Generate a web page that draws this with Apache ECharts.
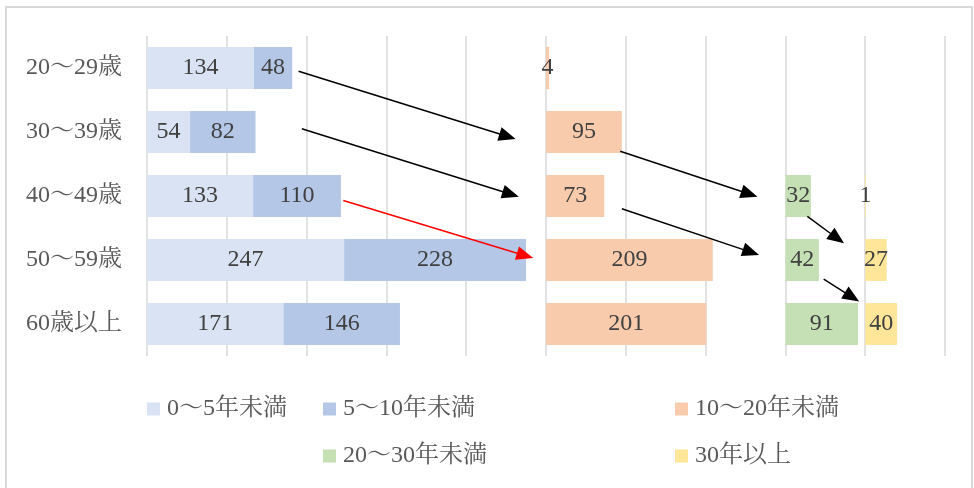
<!DOCTYPE html>
<html>
<head>
<meta charset="utf-8">
<style>
  html, body { margin: 0; padding: 0; background: #ffffff; }
  #frame { position: absolute; left: 5px; top: 6px; width: 968px; height: 490px; border: 2px solid #d9d9d9; box-sizing: border-box; }
  #chart { position: absolute; left: 0; top: 0; width: 974px; height: 488px; }
</style>
<script src="https://cdn.jsdelivr.net/npm/echarts@6/dist/echarts.min.js"></script>
</head>
<body>
<div id="frame"></div>
<div id="chart"></div>
<script>
// Age groups (rows, top to bottom)
const ageGroups = ['20〜29歳', '30〜39歳', '40〜49歳', '50〜59歳', '60歳以上'];

// Headcount by length of service
const years0to5   = [134, 54, 133, 247, 171];
const years5to10  = [48, 82, 110, 228, 146];
const years10to20 = [4, 95, 73, 209, 201];
const years20to30 = [0, 0, 32, 42, 91];
const years30plus = [0, 0, 1, 27, 40];

const seriesNames = ['0〜5年未満', '5〜10年未満', '10〜20年未満', '20〜30年未満', '30年以上'];

// Where each tenure column begins on the shared value axis
const columnStart = { col10to20: 500, col20to30: 800, col30plus: 900 };

// Flow arrows: [fromValue, fromRow, toValue, toRow, color]
const flowArrows = [
  [190, 0.05, 462, 1.11, '#000000'],
  [194, 0.95, 466, 2.01, '#000000'],
  [246, 2.07, 484, 2.97, '#ff0000'],
  [593, 1.30, 765, 2.01, '#000000'],
  [595, 2.20, 767, 2.92, '#000000'],
  [827.5, 2.32, 873.5, 2.74, '#000000'],
  [848, 3.30, 892.5, 3.65, '#000000']
];

const colors = ['#dae3f3', '#b4c7e7', '#f8cbad', '#c5e0b4', '#ffe699'];
const FONT = "'Liberation Serif', 'Noto Serif CJK JP', 'Noto Sans CJK JP', serif";

// transparent spacers that push each tenure column to its start position
const spacer1 = ageGroups.map((_, i) => columnStart.col10to20 - years0to5[i] - years5to10[i]);
const spacer2 = ageGroups.map((_, i) => columnStart.col20to30 - columnStart.col10to20 - years10to20[i]);
const spacer3 = ageGroups.map((_, i) => columnStart.col30plus - columnStart.col20to30 - years20to30[i]);

function valueBar(name, data, color) {
  return {
    name: name,
    type: 'bar',
    stack: 'total',
    barCategoryGap: '34%',
    data: data,
    itemStyle: { color: color },
    label: {
      show: true,
      position: 'inside',
      color: '#404040',
      fontFamily: FONT,
      fontSize: 24,
      formatter: p => (p.value ? String(p.value) : '')
    },
    emphasis: { disabled: true }
  };
}

function spacerBar(name, data) {
  return {
    name: name,
    type: 'bar',
    stack: 'total',
    data: data,
    silent: true,
    itemStyle: { color: 'rgba(0,0,0,0)' },
    label: { show: false },
    emphasis: { disabled: true }
  };
}

function legendAt(name, left, top) {
  return {
    data: [name],
    left: left,
    top: top,
    padding: 0,
    itemWidth: 13,
    itemHeight: 13,
    icon: 'rect',
    selectedMode: false,
    textStyle: { color: '#595959', fontFamily: FONT, fontSize: 24, padding: [0, 0, 0, 2] }
  };
}

const chart = echarts.init(document.getElementById('chart'), null, { renderer: 'canvas' });

chart.setOption({
  animation: false,
  color: colors,
  grid: { left: 147, right: 29, top: 36, bottom: 132, containLabel: false },
  xAxis: {
    type: 'value',
    min: 0,
    max: 1000,
    interval: 100,
    axisLabel: { show: false },
    axisLine: { show: false },
    axisTick: { show: false },
    splitLine: { show: true, lineStyle: { color: '#d9d9d9', width: 1.5 } }
  },
  yAxis: {
    type: 'category',
    inverse: true,
    data: ageGroups,
    axisLine: { show: false },
    axisTick: { show: false },
    axisLabel: { color: '#595959', fontFamily: FONT, fontSize: 24, margin: 25 }
  },
  legend: [
    legendAt(seriesNames[0], 147, 397),
    legendAt(seriesNames[1], 323, 397),
    legendAt(seriesNames[2], 675, 397),
    legendAt(seriesNames[3], 323, 444),
    legendAt(seriesNames[4], 675, 444)
  ],
  series: [
    valueBar(seriesNames[0], years0to5, colors[0]),
    valueBar(seriesNames[1], years5to10, colors[1]),
    spacerBar('spacer1', spacer1),
    valueBar(seriesNames[2], years10to20, colors[2]),
    spacerBar('spacer2', spacer2),
    valueBar(seriesNames[3], years20to30, colors[3]),
    spacerBar('spacer3', spacer3),
    valueBar(seriesNames[4], years30plus, colors[4])
  ]
});

// Draw flow arrows in data space, converted through the chart's axes
function rowToPixel(row) {
  const y0 = chart.convertToPixel({ yAxisIndex: 0 }, 0);
  const y1 = chart.convertToPixel({ yAxisIndex: 0 }, 1);
  return y0 + (y1 - y0) * row;
}

function arrowGraphics() {
  const out = [];
  flowArrows.forEach(([xv1, r1, xv2, r2, col]) => {
    const x1 = chart.convertToPixel({ xAxisIndex: 0 }, xv1);
    const x2 = chart.convertToPixel({ xAxisIndex: 0 }, xv2);
    const y1 = rowToPixel(r1);
    const y2 = rowToPixel(r2);
    const dx = x2 - x1, dy = y2 - y1;
    const len = Math.sqrt(dx * dx + dy * dy);
    const ux = dx / len, uy = dy / len;
    const headLen = 17, headHalf = 7;
    const bx = x2 - ux * headLen, by = y2 - uy * headLen;
    out.push({
      type: 'line',
      silent: true,
      z: 100,
      shape: { x1: x1, y1: y1, x2: bx + ux * 2, y2: by + uy * 2 },
      style: { stroke: col, lineWidth: 1.5 }
    });
    out.push({
      type: 'polygon',
      silent: true,
      z: 100,
      shape: {
        points: [
          [x2, y2],
          [bx - uy * headHalf, by + ux * headHalf],
          [bx + uy * headHalf, by - ux * headHalf]
        ]
      },
      style: { fill: col }
    });
  });
  return out;
}

chart.setOption({ graphic: arrowGraphics() });
</script>
</body>
</html>
